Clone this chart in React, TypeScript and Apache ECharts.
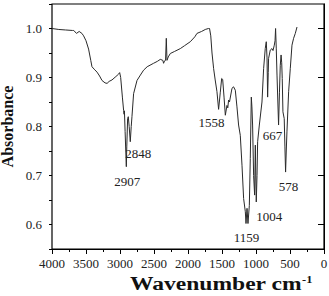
import React, { useEffect, useRef } from "react";
import * as echarts from "echarts";

const wavenumbers = [
  4000, 3900, 3800, 3700, 3680, 3640, 3600, 3560, 3535, 3500, 3462, 3430, 3412, 3380, 3338, 3300, 3265, 3220, 3190, 3160,
  3118, 3060, 3020, 3005, 2990, 2965, 2947, 2940, 2935, 2925, 2915, 2907, 2900, 2888, 2878, 2865, 2849, 2835, 2824, 2800,
  2750, 2700, 2653, 2600, 2506, 2450, 2407, 2370, 2359, 2345, 2330, 2319, 2309, 2290, 2260, 2200, 2113, 2050, 1966, 1900,
  1868, 1800, 1746, 1700, 1683, 1665, 1647, 1623, 1600, 1574, 1550, 1525, 1505, 1490, 1470, 1451, 1427, 1415, 1403, 1390,
  1353, 1330, 1304, 1280, 1256, 1231, 1206, 1182, 1157, 1147, 1132, 1118, 1098, 1084, 1069, 1060, 1050, 1035, 1020, 1010,
  996, 985, 976, 951, 912, 888, 864, 849, 838, 829, 820, 815, 790, 765, 750, 731, 720, 712, 702, 691,
  668, 655, 643, 631, 622, 614, 604, 585, 575, 565, 555, 545, 520, 496, 471, 447, 422, 397,
];

const absorbance = [
  1.0, 0.998, 0.997, 0.996, 0.996, 0.99, 0.994, 0.99, 0.985, 0.975, 0.958, 0.935, 0.922, 0.917, 0.911, 0.903, 0.894, 0.889, 0.888, 0.892,
  0.895, 0.902, 0.907, 0.91, 0.9, 0.86, 0.833, 0.825, 0.832, 0.79, 0.75, 0.718, 0.76, 0.816, 0.82, 0.8, 0.769, 0.8, 0.82, 0.867,
  0.894, 0.905, 0.915, 0.922, 0.929, 0.933, 0.937, 0.935, 0.929, 0.934, 0.935, 0.98, 0.935, 0.942, 0.949, 0.953, 0.959, 0.965, 0.973, 0.983,
  0.99, 0.994, 0.998, 1.0, 1.0, 0.985, 0.95, 0.918, 0.895, 0.871, 0.835, 0.87, 0.898, 0.896, 0.86, 0.823, 0.843, 0.838, 0.854, 0.85,
  0.878, 0.881, 0.874, 0.84, 0.803, 0.782, 0.721, 0.653, 0.626, 0.602, 0.633, 0.602, 0.639, 0.735, 0.86, 0.84, 0.803, 0.7, 0.66, 0.762,
  0.646, 0.7, 0.769, 0.803, 0.85, 0.918, 0.959, 0.973, 0.94, 0.86, 0.91, 0.939, 0.956, 0.959, 0.955, 0.966, 0.975, 1.0, 0.96, 0.905,
  0.803, 0.87, 0.925, 0.946, 0.93, 0.898, 0.83, 0.816, 0.76, 0.707, 0.75, 0.789, 0.871, 0.918, 0.966, 0.98, 0.99, 1.003,
];

const peakLabels = ["2907", "2848", "1558", "1159", "1004", "667", "578"];
const peakWavenumbers = [2907, 2849, 1550, 1140, 996, 668, 565];
const peakAbsorbance = [0.718, 0.769, 0.835, 0.602, 0.646, 0.803, 0.707];
const peakOffsets = [
  [1, 15],
  [8, 12],
  [-7, 13],
  [0, 14],
  [13, 15],
  [-6, 10],
  [3, 14],
];

const yMajorTicks = [0.6, 0.7, 0.8, 0.9, 1.0];

const FONT = "'Liberation Serif', 'Times New Roman', serif";

export default function App() {
  const ref = useRef<HTMLDivElement>(null);

  useEffect(() => {
    if (!ref.current) return;
    const chart = echarts.init(ref.current, undefined, { renderer: "svg" });
    const data = wavenumbers.map((w, i) => [w, absorbance[i]]);
    const axisLineStyle = { color: "#000", width: 1 };
    chart.setOption({
      animation: false,
      backgroundColor: "#fff",
      grid: {
        left: 52,
        right: 5,
        top: 4,
        bottom: 47,
        show: true,
        borderColor: "#000",
        borderWidth: 1.2,
        containLabel: false,
        outerBoundsMode: "none",
      },
      xAxis: {
        type: "value",
        inverse: true,
        min: 0,
        max: 4000,
        interval: 500,
        axisLine: { show: true, lineStyle: axisLineStyle },
        axisTick: { show: true, length: 5, lineStyle: axisLineStyle },
        minorTick: { show: true, splitNumber: 2, length: 3, lineStyle: axisLineStyle },
        splitLine: { show: false },
        minorSplitLine: { show: false },
        axisLabel: {
          fontFamily: FONT,
          fontSize: 13,
          color: "#222",
          margin: 8,
          formatter: (v: number) => String(v),
        },
      },
      yAxis: [
        {
          type: "value",
          min: 0.55,
          max: 1.05,
          position: "left",
          axisLine: { show: true, lineStyle: axisLineStyle },
          axisTick: { show: true, length: 6, customValues: yMajorTicks, lineStyle: axisLineStyle },
          axisLabel: {
            customValues: yMajorTicks,
            formatter: (v: number) => v.toFixed(1),
            fontFamily: FONT,
            fontSize: 13,
            color: "#222",
            margin: 10,
          },
          splitLine: { show: false },
          name: "Absorbance",
          nameLocation: "middle",
          nameGap: 37,
          nameMoveOverlap: false,
          nameTextStyle: { fontFamily: FONT, fontSize: 16, fontWeight: "bold", color: "#111" },
        },
        {
          type: "value",
          min: 0.55,
          max: 1.05,
          interval: 0.05,
          position: "left",
          axisLine: { show: false },
          axisTick: { show: true, length: 3, lineStyle: axisLineStyle },
          axisLabel: { show: false },
          splitLine: { show: false },
        },
      ],
      graphic: [
        {
          type: "text",
          x: 130,
          y: 274,
          scaleX: 1.24,
          style: {
            text: "Wavenumber cm{sup|-1}",
            fontFamily: FONT,
            fontSize: 19,
            fontWeight: "bold",
            fill: "#111",
            rich: {
              sup: { fontFamily: FONT, fontSize: 10, fontWeight: "bold", fill: "#111", verticalAlign: "top" },
            },
          },
        },
      ],
      series: [
        {
          type: "line",
          data,
          showSymbol: false,
          symbol: "none",
          lineStyle: { color: "#2a2a2a", width: 1 },
          markPoint: {
            symbol: "circle",
            symbolSize: 1,
            itemStyle: { color: "rgba(0,0,0,0)" },
            label: {
              show: true,
              position: "inside",
              fontFamily: FONT,
              fontSize: 13,
              color: "#222",
              formatter: (p: any) => p.name,
            },
            data: peakLabels.map((name, i) => ({
              name,
              coord: [peakWavenumbers[i], peakAbsorbance[i]],
              label: { offset: peakOffsets[i] },
            })),
          },
        },
      ],
    });
    return () => chart.dispose();
  }, []);

  return <div ref={ref} style={{ position: "absolute", left: 0, top: 0, width: 329, height: 296 }} />;
}
